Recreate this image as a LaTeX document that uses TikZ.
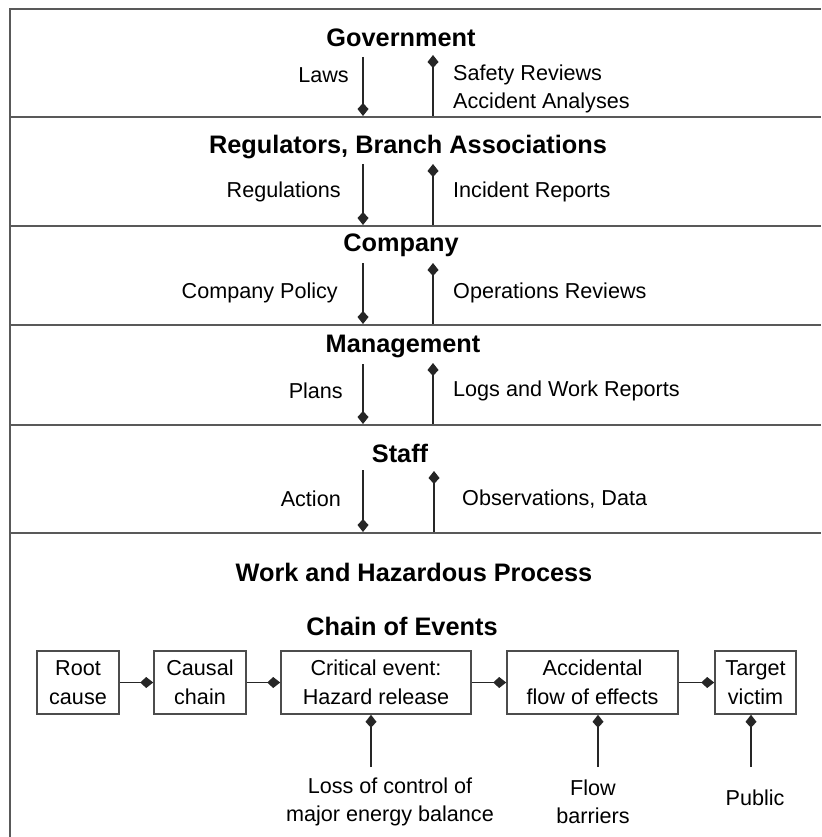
\documentclass[tikz,border=0pt]{standalone}
\usepackage{fontspec}
\setmainfont{Liberation Sans}
\usetikzlibrary{arrows.meta}

\begin{document}
\begin{tikzpicture}[x=1pt, y=-1pt,
    layerline/.style={black!65, line width=1.8pt},
    flow/.style={black!85, line width=1.4pt, -{Kite[length=13pt, width=11pt, inset=6pt]}},
    evbox/.style={draw=black!70, line width=1.6pt, minimum height=63pt, inner sep=0pt, align=center, font=\fontsize{21.6}{29}\selectfont},
    level/.style={font=\fontsize{25.3}{30}\selectfont\bfseries},
    lbl/.style={font=\fontsize{21.6}{28}\selectfont, inner sep=0pt}]
    \useasboundingbox (0,0) rectangle (821,837);

    % Frame and layer separators
    \draw[layerline] (10,837) -- (10,9) -- (821,9);
    \draw[layerline] (10,117) -- (821,117);
    \draw[layerline] (10,226) -- (821,226);
    \draw[layerline] (10,325) -- (821,325);
    \draw[layerline] (10,425) -- (821,425);
    \draw[layerline] (10,533) -- (821,533);

    % Layer titles
    \node[level] (gov) at (401,38) {Government};
    \node[level] (reg) at (408,147) {Regulators, Branch Associations};
    \node[level] (comp) at (401,245) {Company};
    \node[level] (mgmt) at (403,346) {Management};
    \node[level] (staff) at (400,453) {Staff};
    \node[level] (work) at (414,572) {Work and Hazardous Process};
    \node[level] (chain) at (402,626) {Chain of Events};

    % Government
    \coordinate (lawsA) at (363,57);   \coordinate (lawsB) at (363,116);
    \coordinate (safeA) at (433,116);  \coordinate (safeB) at (433,55);
    \draw[flow] (lawsA) -- (lawsB);
    \draw[flow] (safeA) -- (safeB);
    \node[lbl, anchor=east] (laws) at (349,75) {Laws};
    \node[lbl, anchor=west, align=left] (safety) at (453,89) {Safety Reviews\\Accident Analyses};

    % Regulators
    \coordinate (regsA) at (363,164);  \coordinate (regsB) at (363,225);
    \coordinate (incA) at (433,225);   \coordinate (incB) at (433,164);
    \draw[flow] (regsA) -- (regsB);
    \draw[flow] (incA) -- (incB);
    \node[lbl, anchor=east] (regs) at (341,192) {Regulations};
    \node[lbl, anchor=west] (inc) at (453,192) {Incident Reports};

    % Company
    \coordinate (polA) at (363,263);   \coordinate (polB) at (363,324);
    \coordinate (opsA) at (433,324);   \coordinate (opsB) at (433,263);
    \draw[flow] (polA) -- (polB);
    \draw[flow] (opsA) -- (opsB);
    \node[lbl, anchor=east] (pol) at (338,293) {Company Policy};
    \node[lbl, anchor=west] (ops) at (453,293) {Operations Reviews};

    % Management
    \coordinate (planA) at (363,364);  \coordinate (planB) at (363,424);
    \coordinate (logsA) at (433,424);  \coordinate (logsB) at (433,363);
    \draw[flow] (planA) -- (planB);
    \draw[flow] (logsA) -- (logsB);
    \node[lbl, anchor=east] (plans) at (343,391) {Plans};
    \node[lbl, anchor=west] (logs) at (453,391) {Logs and Work Reports};

    % Staff
    \coordinate (actA) at (363,470);   \coordinate (actB) at (363,532);
    \coordinate (obsA) at (434,532);   \coordinate (obsB) at (434,471);
    \draw[flow] (actA) -- (actB);
    \draw[flow] (obsA) -- (obsB);
    \node[lbl, anchor=east] (act) at (341,499) {Action};
    \node[lbl, anchor=west] (obs) at (462,499) {Observations, Data};

    % Chain of events
    \node[evbox, minimum width=82pt] (root) at (78,682.5) {Root\\cause};
    \node[evbox, minimum width=92pt] (causal) at (200,682.5) {Causal\\chain};
    \node[evbox, minimum width=190pt] (crit) at (376,682.5) {Critical event:\\Hazard release};
    \node[evbox, minimum width=171pt] (accid) at (592.5,682.5) {Accidental\\flow of effects};
    \node[evbox, minimum width=81pt] (target) at (755.5,682.5) {Target\\victim};
    \draw[flow] (root) -- (causal);
    \draw[flow] (causal) -- (crit);
    \draw[flow] (crit) -- (accid);
    \draw[flow] (accid) -- (target);

    % Influences from below
    \coordinate (lossA) at (371,767);
    \coordinate (barA) at (598,767);
    \coordinate (pubA) at (751,767);
    \draw[flow] (lossA) -- (crit.south -| lossA);
    \draw[flow] (barA) -- (accid.south -| barA);
    \draw[flow] (pubA) -- (target.south -| pubA);
    \node[lbl, align=center] (loss) at (390,802) {Loss of control of\\major energy balance};
    \node[lbl, align=center] (bar) at (593,802) {Flow\\barriers};
    \node[lbl] (pub) at (755,798) {Public};
\end{tikzpicture}
\end{document}
